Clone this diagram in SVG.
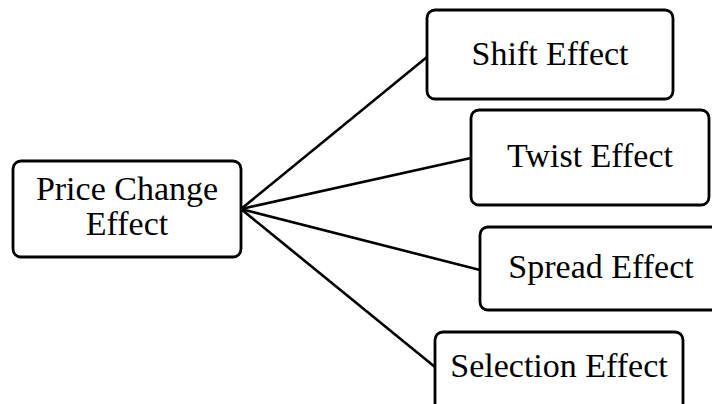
<svg xmlns="http://www.w3.org/2000/svg" width="712" height="404" viewBox="0 0 712 404">
<style>
.box{fill:#fff;stroke:#000;stroke-width:2.8}
.lbl{font-family:"Liberation Serif","DejaVu Serif",serif;font-size:34px;fill:#000;text-anchor:middle}
.edge{stroke:#000;stroke-width:2.6;fill:none}
</style>
<rect width="712" height="404" fill="#fff"/>
<g id="connectors">
<line class="edge" x1="241" y1="209" x2="427" y2="57"/>
<line class="edge" x1="241" y1="209" x2="471" y2="158"/>
<line class="edge" x1="241" y1="209" x2="480" y2="270"/>
<line class="edge" x1="241" y1="209" x2="435" y2="367"/>
</g>
<g id="price-change">
<rect class="box" x="13" y="161" width="228" height="96" rx="8"/>
<text class="lbl" x="127" y="200">Price Change</text>
<text class="lbl" x="127" y="235">Effect</text>
</g>
<g id="shift">
<rect class="box" x="427" y="10" width="246" height="89" rx="8"/>
<text class="lbl" x="550" y="65">Shift Effect</text>
</g>
<g id="twist">
<rect class="box" x="471" y="110" width="238" height="95" rx="8"/>
<text class="lbl" x="590" y="167">Twist Effect</text>
</g>
<g id="spread">
<rect class="box" x="480" y="227" width="242" height="83" rx="8"/>
<text class="lbl" x="601" y="278">Spread Effect</text>
</g>
<g id="selection">
<rect class="box" x="435" y="332" width="248" height="90" rx="8"/>
<text class="lbl" x="559" y="377">Selection Effect</text>
</g>
</svg>
